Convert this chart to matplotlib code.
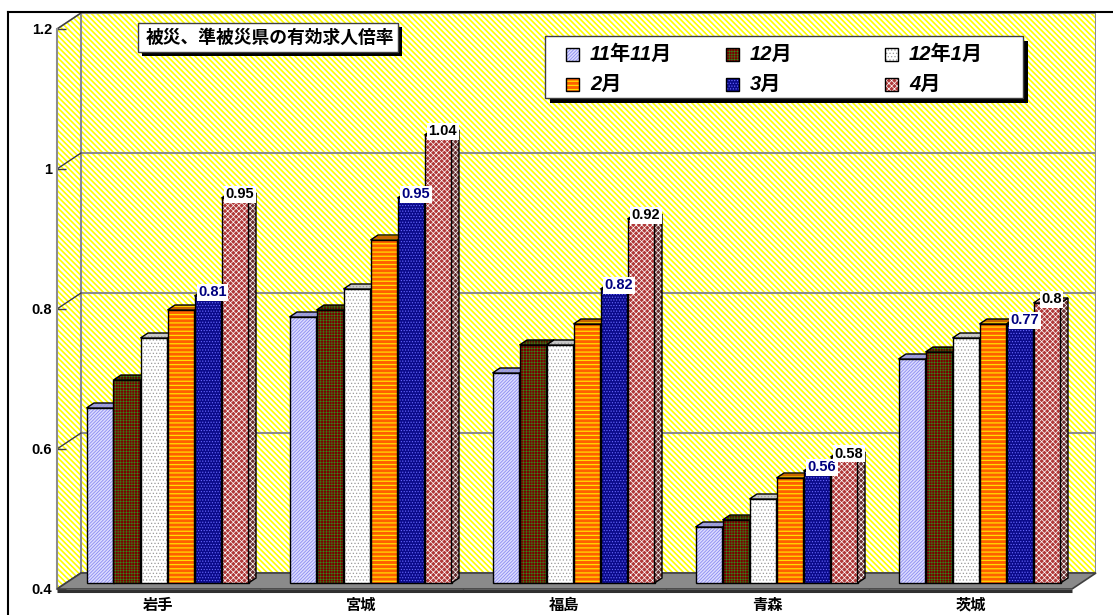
import matplotlib
matplotlib.use('Agg')
import matplotlib.pyplot as plt
from matplotlib.patches import Rectangle, Polygon
from matplotlib.lines import Line2D
import numpy as np

# ---------------- data ----------------
categories = ['岩手', '宮城', '福島', '青森', '茨城']
series_names = ['11年11月', '12月', '12年1月', '2月', '3月', '4月']
v_2011_11 = [0.65, 0.78, 0.70, 0.48, 0.72]
v_2011_12 = [0.69, 0.79, 0.74, 0.49, 0.73]
v_2012_01 = [0.75, 0.82, 0.74, 0.52, 0.75]
v_2012_02 = [0.79, 0.89, 0.77, 0.55, 0.77]
v_2012_03 = [0.81, 0.95, 0.82, 0.56, 0.77]
v_2012_04 = [0.95, 1.04, 0.92, 0.58, 0.80]
series_values = [v_2011_11, v_2011_12, v_2012_01, v_2012_02, v_2012_03, v_2012_04]
labelled_series = [4, 5]
y_ticks = [0.4, 0.6, 0.8, 1.0, 1.2]
y_tick_labels = ['0.4', '0.6', '0.8', '1', '1.2']
title = '被災、準被災県の有効求人倍率'

# ---------------- styles ----------------
styles = [
    dict(face='#dcdcff', hatchc='#8c8cf0', hatch='/' * 10, hlw=0.6, top='#a8a8cc', side='#8888b8', lbl=None),
    dict(face='#7a0000', hatchc='#22aa22', hatch='+' * 6, hlw=0.3, top='#5a1000', side='#400000', lbl=None),
    dict(face='#ffffff', hatchc='#9a9a9a', hatch='.' * 5, hlw=0.5, top='#c8c8c8', side='#b0b0b0', lbl=None),
    dict(face='#ff6000', hatchc='#ffe000', hatch='-' * 4, hlw=0.9, top='#c86400', side='#b04800', lbl=None),
    dict(face='#0a0a8a', hatchc='#6a6aff', hatch='.' * 6, hlw=0.5, top='#000070', side='#000050', lbl='#000080'),
    dict(face='#b03838', hatchc='#ffffff', hatch='x' * 6, hlw=0.5, top='#c07070', side='#6a3030', lbl='#000000'),
]

W, H, DPI = 1113, 615, 100
plt.rcParams['hatch.linewidth'] = 1.0
fig = plt.figure(figsize=(W / DPI, H / DPI), dpi=DPI)
fig.patch.set_facecolor('white')

def fx(x):
    return x / W

def fy(y):
    return 1 - y / H

# axes: front plane; x in category units, y in values
px_cat = 203.0
px_val = 700.0
ax_left, ax_right, ax_bottom, ax_top = 57, 1096, 589, 13
ax = fig.add_axes([fx(ax_left), fy(ax_bottom), (ax_right - ax_left) / W, (ax_bottom - ax_top) / H])
base = 0.4
ax.set_xlim(0, (ax_right - ax_left) / px_cat)
ax.set_ylim(base, base + (ax_bottom - ax_top) / px_val)
ax.patch.set_visible(False)

ncat = len(categories)
dxw, dyw = 24 / px_cat, 16 / px_val      # wall depth
bx, by = 9 / px_cat, 6 / px_val          # bar plane offset
ddx, ddy = 7.5 / px_cat, 5 / px_val      # bar depth
bar_w = 27 / px_cat
ymax = y_ticks[-1]

def hatched_poly(pts, face, hatchc, hatch, hlw, z):
    with plt.rc_context({'hatch.linewidth': hlw}):
        p = Polygon(pts, closed=True, facecolor=face, edgecolor=hatchc, hatch=hatch,
                    linewidth=0, zorder=z, clip_on=False)
    ax.add_patch(p)
    ax.add_patch(Polygon(pts, closed=True, fill=False, edgecolor='black', linewidth=1,
                         zorder=z + 0.05, clip_on=False))

# walls
wall_hatch = '\\' * 6
with plt.rc_context({'hatch.linewidth': 1.2}):
    back = Rectangle((dxw, base + dyw), ncat, ymax - base, facecolor='white', edgecolor='#ffff00',
                     hatch=wall_hatch, linewidth=0, zorder=1)
    side = Polygon([(0, base), (0, ymax), (dxw, ymax + dyw), (dxw, base + dyw)], closed=True,
                   facecolor='white', edgecolor='#ffff00', hatch=wall_hatch, linewidth=0, zorder=1)
ax.add_patch(back)
ax.add_patch(side)
ax.add_patch(Rectangle((dxw, base + dyw), ncat, ymax - base, fill=False, edgecolor='#8c8c8c',
                       linewidth=1.5, zorder=2))
ax.add_patch(Polygon([(0, base), (0, ymax), (dxw, ymax + dyw), (dxw, base + dyw)], closed=True,
                     fill=False, edgecolor='#8c8c8c', linewidth=1.2, zorder=2))
for v in y_ticks[1:-1]:
    ax.plot([dxw, ncat + dxw], [v + dyw, v + dyw], color='#8c8c8c', lw=1.5, zorder=2)
for v in y_ticks:
    ax.plot([0, dxw], [v, v + dyw], color='#404040', lw=1, zorder=2)

# floor
ax.add_patch(Polygon([(0, base), (ncat, base), (ncat + dxw, base + dyw), (dxw, base + dyw)],
                     closed=True, facecolor='#8a8a8a', edgecolor='#404040', linewidth=1.2,
                     zorder=3, clip_on=False))
ax.plot([0, ncat], [base - 1.5 / px_val, base - 1.5 / px_val], color='#303030', lw=2.2,
        zorder=3, clip_on=False, solid_capstyle='butt')

# bars
for j, (vals, st) in enumerate(zip(series_values, styles)):
    xs = np.arange(ncat) + 0.5 + (j - 2.5) * bar_w + bx
    h = np.array(vals) - base
    z = 10 + 3 * j
    with plt.rc_context({'hatch.linewidth': st['hlw']}):
        bars = ax.bar(xs, h, bar_w, bottom=base + by, color=st['face'], edgecolor=st['hatchc'],
                      hatch=st['hatch'], linewidth=0, zorder=z, label=series_names[j])
    ax.bar(xs, h, bar_w, bottom=base + by, fill=False, edgecolor='black', linewidth=1, zorder=z + 0.1)
    for rect in bars:
        x0 = rect.get_x()
        x1 = x0 + rect.get_width()
        yb = rect.get_y()
        yt = yb + rect.get_height()
        hatched_poly([(x1, yb), (x1, yt), (x1 + ddx, yt + ddy), (x1 + ddx, yb + ddy)],
                     st['side'], st['hatchc'], st['hatch'], st['hlw'], z + 0.2)
        hatched_poly([(x0, yt), (x1, yt), (x1 + ddx, yt + ddy), (x0 + ddx, yt + ddy)],
                     st['top'], st['hatchc'], st['hatch'], st['hlw'], z + 0.3)

# data labels
for j in labelled_series:
    vals = series_values[j]
    xs = np.arange(ncat) + 0.5 + (j - 2.5) * bar_w + bx
    for x, v in zip(xs, vals):
        ax.text(x + ddx / 2 + 1 / px_cat, v + by + ddy / 2 + 1 / px_val, f'{v:g}', ha='center',
                va='center', fontsize=10.5, fontweight='bold', color=styles[j]['lbl'],
                family=['Liberation Sans', 'DejaVu Sans'],
                bbox=dict(facecolor='white', edgecolor='none', pad=1.0), zorder=60)

# axes ticks
for s in ['top', 'right', 'bottom']:
    ax.spines[s].set_visible(False)
ax.spines['left'].set_bounds(base, ymax)
ax.spines['left'].set_color('#8c8c8c')
ax.spines['left'].set_linewidth(1.5)
ax.spines['left'].set_zorder(2)
ax.set_yticks(y_ticks)
ax.set_yticklabels(y_tick_labels)
ax.tick_params(axis='y', direction='in', length=6.5, width=1, color='#404040', pad=3.5)
for t in ax.get_yticklabels():
    t.set_fontweight('bold')
    t.set_fontsize(10.5)
    t.set_family(['Liberation Sans', 'DejaVu Sans'])
ax.set_xticks(np.arange(ncat) + 0.5)
ax.set_xticklabels(categories)
ax.tick_params(axis='x', which='major', length=0, pad=5.5)
ax.set_xticks(np.arange(1, ncat), minor=True)
ax.tick_params(axis='x', which='minor', direction='in', length=4.5, width=1, color='#303030')
for t in ax.get_xticklabels():
    t.set_fontweight('bold')
    t.set_fontsize(11)
    t.set_family(['Noto Sans CJK JP'])

# outer frame
fig.add_artist(Line2D([fx(8), fx(8)], [fy(12), fy(615)], color='black', lw=1.5))
fig.add_artist(Line2D([fx(8), fx(1113)], [fy(12), fy(12)], color='black', lw=1.5))

def fig_box(x0, y0, x1, y1, shadow, z):
    fig.add_artist(Rectangle((fx(x0 + shadow), fy(y1 + shadow)), (x1 - x0) / W, (y1 - y0) / H,
                             facecolor='black', edgecolor='none', zorder=z))
    fig.add_artist(Rectangle((fx(x0), fy(y1)), (x1 - x0) / W, (y1 - y0) / H,
                             facecolor='white', edgecolor='#404040', linewidth=1, zorder=z + 0.1))

# title box
fig_box(138, 23, 398, 52, 4, 70)
fig.text(fx(270), fy(38), title, ha='center', va='center', fontsize=12.8, fontweight='bold',
         style='italic', family=['Noto Sans CJK JP'], zorder=71)

# legend box
fig_box(545, 36, 1023, 98, 5, 70)
leg_cols = [566, 726, 885]
leg_rows = [54.5, 84]
order = [[0, 1, 2], [3, 4, 5]]
for r, row in enumerate(order):
    for c, j in enumerate(row):
        st = styles[j]
        x0, yc = leg_cols[c], leg_rows[r]
        with plt.rc_context({'hatch.linewidth': st['hlw']}):
            fig.add_artist(Rectangle((fx(x0), fy(yc + 6.5)), 13 / W, 13 / H, facecolor=st['face'],
                                     edgecolor=st['hatchc'], hatch=st['hatch'], linewidth=0, zorder=72))
        fig.add_artist(Rectangle((fx(x0), fy(yc + 6.5)), 13 / W, 13 / H, fill=False,
                                 edgecolor='black', linewidth=1, zorder=72.1))
        fig.text(fx(x0 + 24), fy(yc), series_names[j], ha='left', va='center', fontsize=14.5,
                 fontweight='bold', style='italic', family=['Liberation Sans', 'Noto Sans CJK JP'],
                 zorder=73)

fig.savefig('out.png', dpi=DPI)
